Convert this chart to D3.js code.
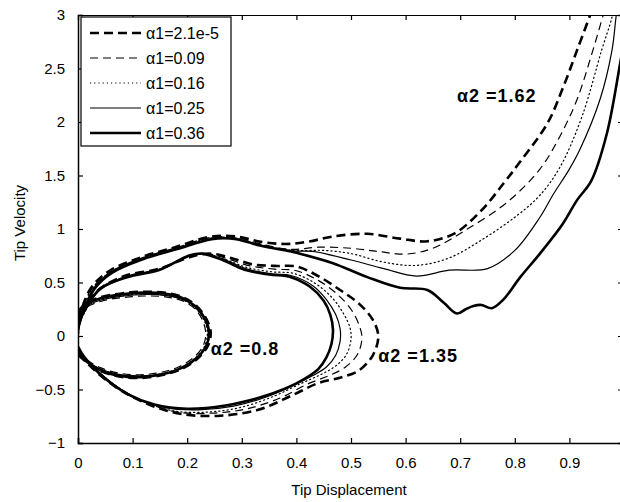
<!DOCTYPE html>
<html><head><meta charset="utf-8">
<script src="https://cdn.jsdelivr.net/npm/d3@7"></script>
<style>
html,body{margin:0;padding:0;background:#fff;}
svg text{font-family:"Liberation Sans",Arial,sans-serif;fill:#000;}
</style></head>
<body><svg id="c" width="620" height="502"></svg>
<script>
// ---- data ----
const alpha1Labels = ["α1=2.1e-5", "α1=0.09", "α1=0.16", "α1=0.25", "α1=0.36"];
const xTicks = [0, 0.1, 0.2, 0.3, 0.4, 0.5, 0.6, 0.7, 0.8, 0.9];
const yTicks = [-1, -0.5, 0, 0.5, 1, 1.5, 2, 2.5, 3];
const annotations = [
  {text: "α2 =0.8", x: 0.243, y: -0.18},
  {text: "α2 =1.35", x: 0.55, y: -0.245},
  {text: "α2 =1.62", x: 0.694, y: 2.19}
];

// alpha2 = 0.8 (closed loops), one per alpha1
const a08_s0 = [[0,0.23],[0.015,0.305],[0.04,0.36],[0.08,0.398],[0.12,0.414],[0.16,0.404],[0.19,0.366],[0.216,0.285],[0.235,0.16],[0.243,0.035],[0.238,-0.09],[0.22,-0.205],[0.193,-0.3],[0.157,-0.362],[0.115,-0.392],[0.075,-0.378],[0.04,-0.325],[0.015,-0.24],[0,-0.16],[0,0.23]];
const a08_s1 = [[0,0.19],[0.016,0.27],[0.043,0.326],[0.083,0.36],[0.123,0.374],[0.163,0.364],[0.192,0.328],[0.215,0.25],[0.229,0.135],[0.234,0.02],[0.229,-0.095],[0.212,-0.2],[0.186,-0.285],[0.152,-0.34],[0.114,-0.362],[0.076,-0.348],[0.042,-0.298],[0.016,-0.222],[0,-0.145],[0,0.19]];
const a08_s2 = [[0,0.21],[0.014,0.286],[0.039,0.342],[0.079,0.378],[0.119,0.393],[0.159,0.382],[0.189,0.346],[0.214,0.266],[0.231,0.146],[0.237,0.026],[0.232,-0.094],[0.215,-0.204],[0.188,-0.294],[0.153,-0.352],[0.113,-0.376],[0.073,-0.36],[0.039,-0.306],[0.014,-0.226],[0,-0.145],[0,0.21]];
const a08_s3 = [[0,0.2],[0.016,0.28],[0.042,0.336],[0.082,0.372],[0.122,0.388],[0.162,0.377],[0.192,0.341],[0.217,0.262],[0.233,0.142],[0.239,0.022],[0.234,-0.1],[0.217,-0.21],[0.19,-0.3],[0.153,-0.356],[0.112,-0.372],[0.072,-0.356],[0.038,-0.302],[0.014,-0.222],[0,-0.14],[0,0.2]];
const a08_s4 = [[0,0.222],[0.015,0.296],[0.04,0.351],[0.08,0.389],[0.12,0.405],[0.16,0.395],[0.19,0.358],[0.215,0.278],[0.233,0.155],[0.24,0.032],[0.235,-0.091],[0.218,-0.203],[0.191,-0.295],[0.156,-0.356],[0.115,-0.385],[0.075,-0.371],[0.04,-0.318],[0.015,-0.235],[0,-0.155],[0,0.222]];

// alpha2 = 1.35 (closed loops)
const a135_s0 = [[0,0.08],[0.008,0.2],[0.035,0.42],[0.085,0.56],[0.15,0.63],[0.2,0.73],[0.24,0.77],[0.28,0.73],[0.32,0.67],[0.36,0.655],[0.4,0.65],[0.44,0.56],[0.48,0.43],[0.515,0.3],[0.54,0.15],[0.55,0.0],[0.54,-0.18],[0.515,-0.32],[0.48,-0.39],[0.44,-0.44],[0.39,-0.56],[0.33,-0.69],[0.26,-0.745],[0.19,-0.73],[0.13,-0.64],[0.07,-0.48],[0.02,-0.27],[0,-0.15]];
const a135_s1 = [[0,0.09],[0.009,0.2],[0.037,0.43],[0.087,0.555],[0.15,0.625],[0.2,0.735],[0.235,0.77],[0.275,0.72],[0.315,0.655],[0.36,0.625],[0.4,0.61],[0.44,0.52],[0.475,0.39],[0.5,0.25],[0.515,0.1],[0.52,-0.02],[0.512,-0.17],[0.49,-0.29],[0.46,-0.37],[0.42,-0.45],[0.37,-0.58],[0.31,-0.68],[0.25,-0.72],[0.18,-0.71],[0.12,-0.61],[0.065,-0.45],[0.02,-0.25],[0,-0.14]];
const a135_s2 = [[0,0.1],[0.01,0.2],[0.038,0.43],[0.088,0.55],[0.15,0.62],[0.2,0.74],[0.232,0.77],[0.27,0.715],[0.31,0.64],[0.355,0.6],[0.395,0.585],[0.435,0.49],[0.465,0.36],[0.485,0.22],[0.498,0.08],[0.5,-0.03],[0.492,-0.17],[0.472,-0.28],[0.445,-0.36],[0.41,-0.44],[0.36,-0.56],[0.3,-0.665],[0.24,-0.71],[0.175,-0.7],[0.115,-0.6],[0.06,-0.43],[0.018,-0.24],[0,-0.13]];
const a135_s3 = [[0,0.11],[0.01,0.21],[0.04,0.43],[0.09,0.55],[0.15,0.62],[0.205,0.75],[0.23,0.765],[0.27,0.71],[0.31,0.625],[0.355,0.58],[0.39,0.565],[0.43,0.47],[0.455,0.34],[0.472,0.2],[0.48,0.07],[0.48,-0.05],[0.472,-0.18],[0.455,-0.29],[0.43,-0.37],[0.395,-0.46],[0.345,-0.57],[0.285,-0.655],[0.22,-0.69],[0.16,-0.67],[0.105,-0.58],[0.055,-0.41],[0.015,-0.22],[0,-0.12]];
const a135_s4 = [[0,0.12],[0.01,0.22],[0.04,0.44],[0.09,0.55],[0.15,0.62],[0.205,0.755],[0.228,0.77],[0.265,0.71],[0.305,0.62],[0.35,0.575],[0.39,0.55],[0.425,0.46],[0.45,0.33],[0.462,0.2],[0.467,0.06],[0.464,-0.08],[0.455,-0.2],[0.44,-0.31],[0.415,-0.4],[0.38,-0.49],[0.33,-0.58],[0.27,-0.65],[0.2,-0.68],[0.14,-0.64],[0.09,-0.54],[0.05,-0.4],[0.012,-0.2],[0,-0.1]];

// alpha2 = 1.62 (open trajectories leaving the plot)
const a162_s0 = [[0,0.02],[0.004,0.2],[0.024,0.45],[0.058,0.61],[0.118,0.74],[0.178,0.83],[0.24,0.925],[0.29,0.93],[0.335,0.88],[0.38,0.86],[0.42,0.88],[0.467,0.93],[0.53,0.955],[0.59,0.91],[0.64,0.885],[0.69,0.96],[0.74,1.18],[0.78,1.43],[0.81,1.63],[0.86,1.99],[0.889,2.33],[0.914,2.67],[0.938,3.0],[0.945,3.1]];
const a162_s1 = [[0,0.03],[0.005,0.2],[0.025,0.44],[0.06,0.6],[0.12,0.735],[0.18,0.825],[0.242,0.92],[0.29,0.92],[0.335,0.86],[0.39,0.81],[0.44,0.83],[0.5,0.82],[0.55,0.79],[0.6,0.765],[0.65,0.82],[0.71,0.99],[0.786,1.25],[0.846,1.56],[0.883,1.87],[0.914,2.21],[0.943,2.67],[0.962,3.0],[0.968,3.1]];
const a162_s2 = [[0,0.04],[0.006,0.2],[0.026,0.44],[0.06,0.6],[0.12,0.73],[0.18,0.82],[0.243,0.915],[0.29,0.915],[0.333,0.855],[0.394,0.8],[0.45,0.8],[0.5,0.77],[0.56,0.69],[0.62,0.66],[0.68,0.73],[0.74,0.9],[0.8,1.11],[0.845,1.31],[0.883,1.58],[0.923,2.05],[0.959,2.67],[0.978,2.98],[0.982,3.1]];
const a162_s3 = [[0,0.05],[0.007,0.2],[0.028,0.44],[0.06,0.595],[0.12,0.725],[0.18,0.815],[0.244,0.91],[0.29,0.91],[0.333,0.85],[0.394,0.795],[0.43,0.79],[0.5,0.71],[0.56,0.63],[0.62,0.56],[0.68,0.615],[0.75,0.63],[0.8,0.8],[0.846,1.11],[0.87,1.32],[0.9,1.56],[0.919,1.74],[0.956,2.21],[0.978,2.67],[0.986,3.0],[0.99,3.1]];
const a162_s4 = [[0,0.06],[0.008,0.2],[0.03,0.44],[0.062,0.59],[0.12,0.72],[0.18,0.81],[0.245,0.905],[0.29,0.905],[0.333,0.845],[0.394,0.785],[0.41,0.765],[0.467,0.68],[0.53,0.55],[0.59,0.45],[0.64,0.43],[0.67,0.31],[0.694,0.21],[0.71,0.25],[0.724,0.28],[0.739,0.29],[0.758,0.26],[0.779,0.34],[0.81,0.55],[0.846,0.77],[0.888,1.05],[0.914,1.27],[0.94,1.45],[0.969,1.9],[0.993,2.55],[1.0,2.75]];

const seriesByAlpha1 = [
  [a08_s0, a135_s0, a162_s0],
  [a08_s1, a135_s1, a162_s1],
  [a08_s2, a135_s2, a162_s2],
  [a08_s3, a135_s3, a162_s3],
  [a08_s4, a135_s4, a162_s4]
];

// ---- styles ----
const styles = [
  {w: 2.6, dash: "9,5"},
  {w: 1.2, dash: "8,5"},
  {w: 1.2, dash: "1.2,3"},
  {w: 1.2, dash: null},
  {w: 2.6, dash: null}
];

const svg = d3.select("#c");
const L = 78, R = 624, T = 15, B = 443;
const x = d3.scaleLinear().domain([0, 1]).range([L, R]);
const y = d3.scaleLinear().domain([-1, 3]).range([B, T]);

svg.append("rect").attr("width", 620).attr("height", 502).attr("fill", "#fff");

svg.append("defs").append("clipPath").attr("id", "clip")
  .append("rect").attr("x", L).attr("y", T).attr("width", R - L).attr("height", B - T);

const line = d3.line().x(d => x(d[0])).y(d => y(d[1])).curve(d3.curveCatmullRom.alpha(0.5));

const plot = svg.append("g").attr("clip-path", "url(#clip)");
seriesByAlpha1.forEach((group, i) => {
  group.forEach(pts => {
    plot.append("path").attr("d", line(pts)).attr("fill", "none")
      .attr("stroke", "#000").attr("stroke-width", styles[i].w)
      .attr("stroke-dasharray", styles[i].dash)
      .attr("stroke-linejoin", "round").attr("stroke-linecap", styles[i].dash === "1.2,3" ? "round" : "butt");
  });
});

// axes (ticks inward on all four sides)
const fs = "15px";
const gx = svg.append("g").attr("transform", `translate(0,${B})`)
  .call(d3.axisBottom(x).tickValues(xTicks).tickSize(-5).tickPadding(14).tickFormat(d3.format("")));
const gy = svg.append("g").attr("transform", `translate(${L},0)`)
  .call(d3.axisLeft(y).tickValues(yTicks).tickSize(-5).tickPadding(13).tickFormat(d3.format("")));
const gt = svg.append("g").attr("transform", `translate(0,${T})`)
  .call(d3.axisTop(x).tickValues(xTicks).tickSize(-5).tickFormat(""));
const gr = svg.append("g").attr("transform", `translate(${R - 1},0)`)
  .call(d3.axisRight(y).tickValues(yTicks).tickSize(-5).tickFormat(""));
[gx, gy, gt, gr].forEach(g => {
  g.select(".domain").attr("stroke", "#000").attr("stroke-width", 1.5);
  g.selectAll(".tick line").attr("stroke", "#000").attr("stroke-width", 1.2);
  g.selectAll(".tick text").style("font-size", fs).attr("fill", "#000");
});
gt.select(".domain").attr("stroke-width", 1.2);

// axis titles
svg.append("text").attr("x", (L + R) / 2 - 2).attr("y", 495).attr("text-anchor", "middle")
  .style("font-size", "15px").text("Tip Displacement");
svg.append("text").attr("transform", `translate(25,${(T + B) / 2 - 6}) rotate(-90)`)
  .attr("text-anchor", "middle").style("font-size", "15px").text("Tip Velocity");

// annotations
annotations.forEach(a => {
  svg.append("text").attr("x", x(a.x)).attr("y", y(a.y)).style("font-size", "18px")
    .style("font-weight", "bold").style("letter-spacing", "1px").text(a.text);
});

// legend
const lg = svg.append("g");
lg.append("rect").attr("x", 81).attr("y", 17).attr("width", 150).attr("height", 129)
  .attr("fill", "#fff").attr("stroke", "#000").attr("stroke-width", 1.2);
alpha1Labels.forEach((lab, i) => {
  const yy = 33 + i * 25;
  lg.append("line").attr("x1", 90).attr("x2", 141).attr("y1", yy).attr("y2", yy)
    .attr("stroke", "#000").attr("stroke-width", styles[i].w).attr("stroke-dasharray", styles[i].dash);
  lg.append("text").attr("x", 146).attr("y", yy + 6).style("font-size", "16px").text(lab);
});
</script></body></html>
